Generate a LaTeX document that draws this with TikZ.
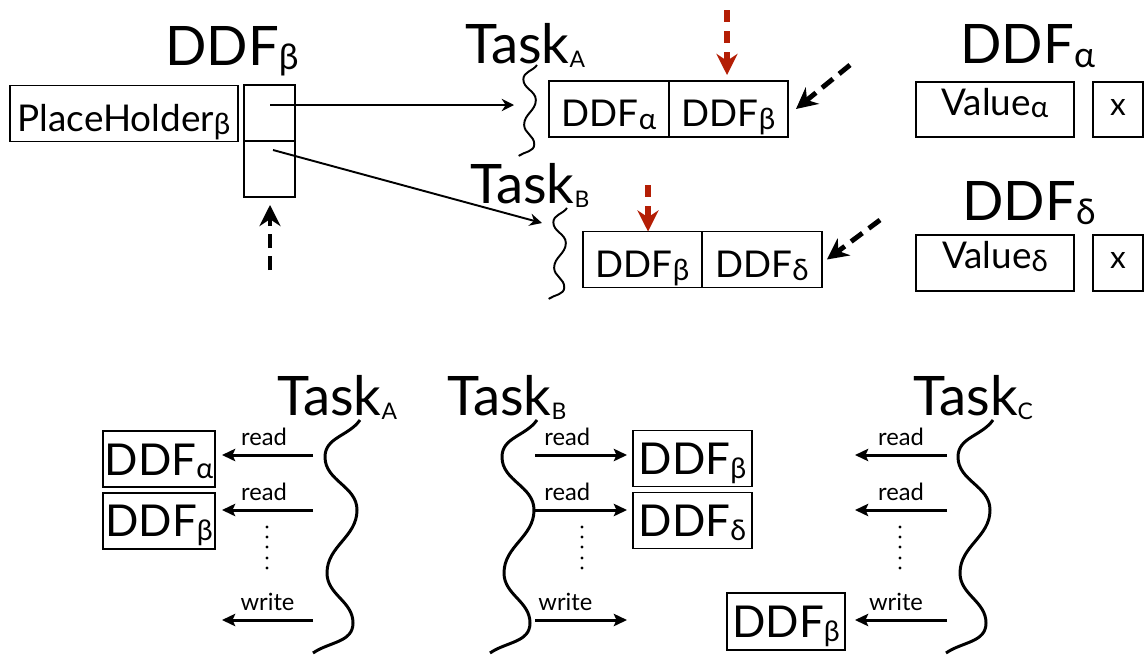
\documentclass[tikz,border=0pt]{standalone}
\usepackage{fontspec}
\setmainfont{Lato}
\usepackage{graphicx}
\usetikzlibrary{arrows.meta,positioning}

\definecolor{darkred}{RGB}{180,30,5}
\newcommand{\idx}[2][0.65]{\raisebox{-0.08em}{\scalebox{#1}{#2}}}

\begin{document}
\begin{tikzpicture}[x=0.02cm, y=0.02cm,
    title/.style={font=\fontsize{31}{31}\selectfont, inner sep=0pt, anchor=base west},
    cell/.style={draw, line width=1.1pt, inner sep=0pt, outer sep=0pt, minimum height=1.12cm,
        text height=0.72cm, text depth=0pt, font=\fontsize{21}{21}\selectfont},
    val/.style={cell, text height=0.22cm},
    big/.style={cell, text height=0.64cm, font=\fontsize{25}{25}\selectfont},
    link/.style={-{Stealth[length=7pt,width=7pt]}, line width=1.1pt},
    push/.style={-{Stealth[length=12pt,width=12pt]}, line width=2.8pt, dash pattern=on 8pt off 4.5pt},
    redpush/.style={push, color=darkred, line width=3.2pt, dash pattern=on 7pt off 5pt},
    rw/.style={-{Stealth[length=7.5pt,width=7pt,inset=1.5pt]}, line width=1.7pt},
    lbl/.style={above=4.5pt, inner sep=0pt, pos=0.5, font=\fontsize{13.5}{13.5}\selectfont},
    pics/squig/.style={code={
        \draw[scale=#1] (0,0) to[out=235,in=90] (-35,-37) to[out=270,in=90] (-3,-90)
            to[out=270,in=90] (-33,-153) to[out=270,in=90] (-7,-203) to[out=270,in=35] (-47,-233);
    }},
    pics/squig/.default=1
]
    \useasboundingbox (0,0) rectangle (1148,654);

    % placeholder and slots
    \node[title] (tddf) at (165,589) {DDF\idx{β}};
    \node[cell, minimum width=4.56cm] (ph) at (124,540.5) {PlaceHolder\idx[0.8]{β}};
    \node[cell, minimum width=1.02cm] (s1) at (269.5,541) {};
    \node[cell, minimum width=1.02cm, below=0pt of s1] (s2) {};

    % task A (top)
    \node[title] (tka) at (465,591) {Task\idx[0.42]{A}};
    \pic[line width=1.1pt] at (537,589) {squig=0.39};
    \node[cell, minimum width=2.4cm] (ta1) at (609,545) {DDF\idx[0.8]{α}};
    \node[cell, minimum width=2.38cm, right=0pt of ta1] (ta2) {DDF\idx[0.8]{β}};

    % task B (top)
    \node[title] (tkb) at (470,451) {Task\idx[0.42]{B}};
    \pic[line width=1.1pt] at (567,446) {squig=0.39};
    \node[cell, minimum width=2.38cm] (tb1) at (642.5,394.5) {DDF\idx[0.8]{β}};
    \node[cell, minimum width=2.4cm, right=0pt of tb1] (tb2) {DDF\idx[0.8]{δ}};

    % values
    \node[title] (tda) at (960,591) {DDF\idx{α}};
    \node[val, minimum width=3.16cm, minimum height=1.1cm] (va) at (995,544.5) {Value\idx[0.8]{α}};
    \node[val, minimum width=1cm, minimum height=1.1cm, font=\fontsize{18}{18}\selectfont, right=0.38cm of va] (xa) {x};
    \node[title] (tdd) at (962,434) {DDF\idx{δ}};
    \node[val, minimum width=3.16cm] (vd) at (995,391) {Value\idx[0.8]{δ}};
    \node[val, minimum width=1cm, font=\fontsize{18}{18}\selectfont, right=0.38cm of vd] (xd) {x};

    % links from slots
    \coordinate (s1in) at (270,549);
    \coordinate (qa) at (514,549);
    \coordinate (s2in) at (273,504);
    \coordinate (qb) at (542,431);
    \draw[link] (s1in) -- (qa);
    \draw[link] (s2in) -- (qb);

    % dashed arrows
    \coordinate (pu) at (270,384);
    \draw[push, shorten >=0.16cm] (pu) -- (pu |- s2.south);
    \coordinate (r1) at (727,644);
    \draw[redpush, shorten >=0.12cm] (r1) -- (r1 |- ta2.north);
    \coordinate (r2) at (648,469);
    \draw[redpush] (r2) -- (r2 |- tb1.north);
    \coordinate (d1) at (850,589);
    \draw[push] (d1) -- ([xshift=0.16cm]ta2.east);
    \coordinate (d2) at (880,434);
    \draw[push] (d2) -- ([xshift=0.1cm]tb2.east);

    % task A (bottom)
    \node[title] (ba) at (277,239) {Task\idx[0.42]{A}};
    \pic[line width=1.7pt] at (360,234) {squig};
    \node[big, minimum width=2.24cm] (a1) at (159,195) {DDF\idx{α}};
    \node[big, minimum width=2.24cm, below=0.12cm of a1] (a2) {DDF\idx{β}};
    \coordinate (ar1) at (313,199);
    \coordinate (ar2) at (313,144);
    \coordinate (ar3) at (313,34);
    \coordinate (aw) at (222,34);
    \draw[rw, shorten >=0.14cm] (ar1) -- node[lbl] {read} (ar1 -| a1.east);
    \draw[rw, shorten >=0.14cm] (ar2) -- node[lbl] {read} (ar2 -| a2.east);
    \draw[rw] (ar3) -- node[lbl] {write} (aw);

    % task B (bottom)
    \node[title] (bb) at (447,239) {Task\idx[0.42]{B}};
    \pic[line width=1.7pt] at (537,234) {squig};
    \node[big, minimum width=2.38cm] (b1) at (692.5,195.5) {DDF\idx{β}};
    \node[big, minimum width=2.38cm, below=0.12cm of b1] (b2) {DDF\idx{δ}};
    \coordinate (br1) at (535,199);
    \coordinate (br2) at (535,144);
    \coordinate (br3) at (535,34);
    \coordinate (bw) at (627,34);
    \draw[rw, shorten >=0.12cm] (br1) -- node[lbl, pos=0.33] {read} (br1 -| b1.west);
    \draw[rw, shorten >=0.12cm] (br2) -- node[lbl, pos=0.33] {read} (br2 -| b2.west);
    \draw[rw] (br3) -- node[lbl, pos=0.33] {write} (bw);

    % task C (bottom)
    \node[title] (bc) at (913,239) {Task\idx[0.42]{C}};
    \pic[line width=1.7pt] at (993,234) {squig};
    \node[big, minimum width=2.36cm, minimum height=1.14cm] (c1) at (786,32.5) {DDF\idx{β}};
    \coordinate (cr1) at (947,199);
    \coordinate (cr2) at (947,144);
    \coordinate (cr3) at (947,34);
    \coordinate (cw1) at (855,199);
    \coordinate (cw2) at (855,144);
    \draw[rw] (cr1) -- node[lbl] {read} (cw1);
    \draw[rw] (cr2) -- node[lbl] {read} (cw2);
    \draw[rw, shorten >=0.2cm] (cr3) -- node[lbl] {write} (cr3 -| c1.east);

    % dots
    \foreach \x in {267,582,900}
        \foreach \y in {127,117,107,96,86}
            \fill (\x,\y) circle (1.6);
\end{tikzpicture}
\end{document}
